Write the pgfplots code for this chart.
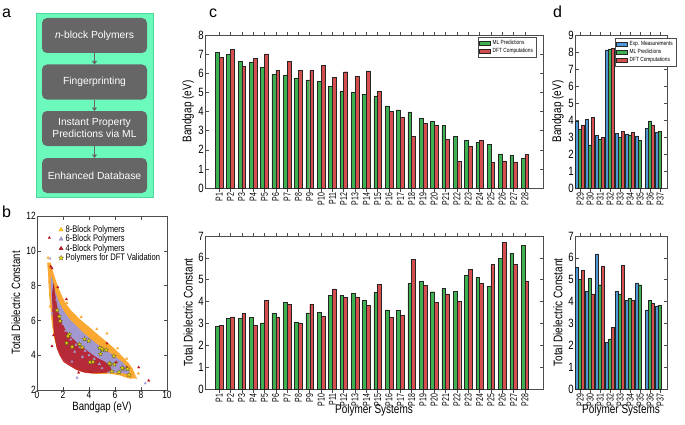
\documentclass[border=0pt]{standalone}
\usepackage{fontspec}
\setmainfont{Liberation Sans}[FakeStretch=0.8]
\newfontfamily\plainfont{Liberation Sans}
\newfontfamily\narrowfont{Liberation Sans}[FakeStretch=0.7]
\usepackage{pgfplots}
\pgfplotsset{compat=1.18}
\usetikzlibrary{arrows.meta}

\definecolor{mlgreen}{RGB}{62,178,80}
\definecolor{dftred}{RGB}{214,78,78}
\definecolor{expblue}{RGB}{78,152,216}
\definecolor{mint}{RGB}{108,250,188}
\definecolor{mintedge}{RGB}{80,215,155}
\definecolor{boxgray}{RGB}{102,102,102}
\definecolor{orange8}{RGB}{250,168,50}
\definecolor{lav6}{RGB}{162,152,208}
\definecolor{red4}{RGB}{185,22,30}

\newcommand\tickfont{\fontsize{12}{12}\selectfont}
\newcommand\labfont{\fontsize{12.5}{13}\selectfont}
\newcommand\pfont{\narrowfont\fontsize{10}{10.5}\selectfont}
\newcommand\legfont{\fontsize{6}{6.5}\selectfont}

% filled five-point star for the DFT validation points
\pgfdeclareplotmark{fstar}{%
  \pgfpathmoveto{\pgfpointpolar{90}{\pgfplotmarksize}}%
  \pgfpathlineto{\pgfpointpolar{126}{0.42\pgfplotmarksize}}%
  \pgfpathlineto{\pgfpointpolar{162}{\pgfplotmarksize}}%
  \pgfpathlineto{\pgfpointpolar{198}{0.42\pgfplotmarksize}}%
  \pgfpathlineto{\pgfpointpolar{234}{\pgfplotmarksize}}%
  \pgfpathlineto{\pgfpointpolar{270}{0.42\pgfplotmarksize}}%
  \pgfpathlineto{\pgfpointpolar{306}{\pgfplotmarksize}}%
  \pgfpathlineto{\pgfpointpolar{342}{0.42\pgfplotmarksize}}%
  \pgfpathlineto{\pgfpointpolar{18}{\pgfplotmarksize}}%
  \pgfpathlineto{\pgfpointpolar{54}{0.42\pgfplotmarksize}}%
  \pgfpathclose\pgfusepathqfillstroke}

\pgfplotsset{
  panel/.style={scale only axis, anchor=south west,
    axis line style={black!70, line width=0.6pt},
    tick style={black!70, line width=0.5pt}, major tick length=3.5pt,
    tick align=inside,
    /pgf/number format/assume math mode=true,
    ticklabel style={font=\tickfont, inner sep=1pt},
    label style={font=\labfont}},
  bars/.style={panel, ybar=0pt, ymin=0,
    x tick label style={rotate=90, anchor=east, font=\pfont, inner sep=1pt},
    legend image code/.code={\draw[##1, line width=0.4pt] (0pt,-2.1pt) rectangle (11pt,2.1pt);},
    legend style={draw=black!70, line width=0.4pt, font=\legfont, inner sep=1pt,
      row sep=-1.6pt, cells={anchor=west}},
    every axis plot/.append style={draw=black!85, line width=0.45pt}},
  ctick/.style={xmin=-0.25, xmax=29.6, xtick={1,...,28},
    xticklabels={P1,P2,P3,P4,P5,P6,P7,P8,P9,P10,P11,P12,P13,P14,P15,P16,P17,P18,P19,P20,P21,P22,P23,P24,P25,P26,P27,P28},
    bar width=3.8pt, width=338pt, height=153pt,
    ylabel style={at={(axis description cs:-0.05,0.5)}, anchor=center}},
  dtick/.style={xmin=0.48, xmax=9.68, xtick={1,...,9},
    xticklabels={P29,P30,P31,P32,P33,P34,P35,P36,P37},
    bar width=3pt, width=92pt, height=153pt,
    ylabel style={at={(axis description cs:-0.185,0.5)}, anchor=center}},
}

\begin{document}
\begin{tikzpicture}
\useasboundingbox (0,0) rectangle (685pt,424pt);

% panel labels
\node[anchor=base west, inner sep=0pt, font=\plainfont\fontsize{16}{16}\selectfont] at (2pt,406pt) {a};
\node[anchor=base west, inner sep=0pt, font=\plainfont\fontsize{16}{16}\selectfont] at (2pt,207pt) {b};
\node[anchor=base west, inner sep=0pt, font=\plainfont\fontsize{16}{16}\selectfont] at (209pt,406pt) {c};
\node[anchor=base west, inner sep=0pt, font=\plainfont\fontsize{16}{16}\selectfont] at (553pt,406pt) {d};

% ---- a: workflow
\draw[fill=mint, draw=mintedge, line width=0.8pt] (36pt,227pt) rectangle (153pt,411pt);
\begin{scope}[every node/.style={fill=boxgray, rounded corners=5pt, minimum width=105pt,
    minimum height=35pt, text=white, align=center, inner sep=1pt,
    font=\plainfont\fontsize{10.3}{12}\selectfont}]
  \node at (94.5pt,388.5pt) {\textit{n}-block Polymers};
  \node at (94.5pt,342pt) {Fingerprinting};
  \node at (94.5pt,295.5pt) {Instant Property\\Predictions via ML};
  \node at (94.5pt,248.5pt) {Enhanced Database};
\end{scope}
\foreach \yt/\yb in {371/359.5, 324.5/313, 278/266}
  \draw[boxgray, line width=1.3pt, -{Triangle[width=5pt,length=3.5pt]}] (94.5pt,\yt pt) -- (94.5pt,\yb pt);

% ---- b: scatter
\begin{axis}[panel, at={(37pt,34pt)}, width=130pt, height=174pt,
  xmin=0, xmax=10, ymin=2, ymax=12, xtick={0,2,...,10}, ytick={2,4,...,12},
  ticklabel style={font=\fontsize{10.5}{10.5}\selectfont},
  label style={font=\fontsize{12}{12}\selectfont},
  xlabel={Bandgap (eV)}, ylabel={Total Dielectric Constant},
  xlabel style={at={(axis description cs:0.5,-0.1)}, anchor=center},
  ylabel style={at={(axis description cs:-0.162,0.5)}, anchor=center},
  legend image code/.code={\draw[mark repeat=2,mark phase=2,#1] plot coordinates {(0pt,0pt)(3pt,0pt)(6pt,0pt)};},
  legend style={at={(0.165,0.958)}, anchor=north west, draw=none, fill=none,
    font=\fontsize{9.5}{9.5}\selectfont, row sep=-3pt, inner sep=0pt, cells={anchor=west}}]
\addlegendimage{only marks, mark=triangle*, mark size=2.3pt, mark options={fill=yellow!85!orange, draw=orange, line width=0.3pt}}
\addlegendentry{8-Block Polymers}
\addlegendimage{only marks, mark=triangle*, mark size=2.3pt, mark options={fill=lav6, draw=lav6!80!black, line width=0.3pt}}
\addlegendentry{6-Block Polymers}
\addlegendimage{only marks, mark=triangle*, mark size=2.3pt, mark options={fill=red4, draw=red4!80!black, line width=0.3pt}}
\addlegendentry{4-Block Polymers}
\addlegendimage{only marks, mark=fstar, mark size=2.6pt, mark options={fill=yellow!90!orange, draw=olive!60!black, line width=0.3pt}}
\addlegendentry{Polymers for DFT Validation}
% 8-block cloud outline
\addplot[forget plot, fill=orange8, draw=orange8, line width=0.8pt] coordinates {
 (0.82,9.3) (1.03,9.3) (1.2,8.8) (1.41,8.31) (1.65,7.8) (1.92,7.35) (2.2,6.95)
 (2.56,6.59) (3.0,6.25) (3.33,6.02) (3.7,5.78) (4.1,5.54) (4.5,5.27) (5.0,4.96)
 (5.45,4.68) (5.9,4.39) (6.3,4.1) (6.67,3.82) (7.0,3.55) (7.31,3.24) (7.56,2.8)
 (7.45,2.7) (7.18,2.67) (6.8,2.75) (6.41,2.86) (5.64,2.96) (4.62,2.95) (3.59,3.05)
 (3.0,3.25) (2.56,3.5) (2.2,3.7) (1.92,3.91) (1.7,4.2) (1.54,4.49) (1.38,4.9)
 (1.28,5.25) (1.15,6.0) (1.08,6.59) (0.95,7.6) (0.9,8.5)} -- cycle;
% 6-block cloud outline
\addplot[forget plot, fill=lav6, draw=lav6, line width=0.5pt] coordinates {
 (1.1,8.5) (1.2,8.2) (1.38,7.65) (1.7,7.0) (2.1,6.45) (2.56,6.0) (3.0,5.68) (3.59,5.25)
 (4.1,4.93) (4.62,4.62) (5.1,4.37) (5.64,4.1) (6.1,3.85) (6.54,3.6) (6.9,3.3)
 (7.1,3.02) (6.9,2.95) (6.41,3.0) (5.38,3.02) (4.1,3.05) (3.4,3.2) (2.82,3.4)
 (2.3,3.65) (1.95,3.9) (1.68,4.35) (1.52,4.75) (1.38,5.3) (1.26,6.0) (1.15,7.0)
 (1.08,7.9)} -- cycle;
% 4-block cloud outline
\addplot[forget plot, fill=red4, draw=red4, fill opacity=0.85, line width=0.3pt] coordinates {
 (1.28,8.1) (1.4,7.4) (1.54,6.78) (1.75,6.2) (2.05,5.63) (2.5,5.1) (3.08,4.7)
 (3.6,4.4) (4.1,4.1) (4.6,3.85) (5.13,3.65) (5.6,3.4) (5.7,3.15) (5.3,3.0)
 (4.36,2.96) (3.7,3.0) (3.08,3.15) (2.5,3.4) (2.05,3.62) (1.75,4.0) (1.54,4.39)
 (1.38,5.0) (1.28,5.63) (1.2,6.6) (1.18,7.55)} -- cycle;
% 6-block points lying over the 4-block cloud
\addplot[forget plot, only marks, mark=triangle*, mark size=1.3pt, lav6, mark options={fill=lav6, draw=lav6}] coordinates {
 (2.2,5.4) (2.6,4.9) (3.0,4.6) (3.3,4.45) (3.7,4.25) (4.0,4.0) (4.4,3.8) (2.0,5.8)
 (1.7,6.5) (1.5,7.2) (2.9,4.2) (3.5,3.9) (4.8,3.5) (3.08,2.71) (1.0,9.55) (1.15,6.4)
 (8.33,2.38) (2.69,3.63) (5.0,3.25)};
% scattered 8-block points
\addplot[forget plot, only marks, mark=triangle*, mark size=1.3pt, orange8, mark options={fill=orange8, draw=orange8}] coordinates {
 (0.85,9.6) (5.38,5.25) (6.2,4.4) (7.6,2.7) (7.8,2.95) (1.0,6.8) (0.95,8.2) (4.6,5.5)
 (6.9,3.8) (2.3,7.0) (3.4,6.2)};
% scattered 4-block points
\addplot[forget plot, only marks, mark=triangle*, mark size=1.3pt, red4, mark options={fill=red4, draw=red4}] coordinates {
 (0.95,10.75) (1.05,9.1) (1.15,9.0) (2.26,7.22) (1.28,5.15) (1.15,4.52) (5.38,4.68)
 (7.82,3.3) (8.59,2.54) (6.92,3.3) (1.6,7.9) (4.1,3.05) (3.2,3.0) (6.1,3.6)};
% DFT validation set (ML predictions of P1-P28)
\addplot[only marks, forget plot, mark=fstar, mark size=2.4pt, mark options={fill=yellow!90!orange, draw=olive!60!black, line width=0.3pt}] coordinates {
 (7.08,2.87) (6.97,3.22) (6.61,3.22) (6.56,3.27) (6.31,3.02) (5.95,3.47) (5.91,3.95)
 (5.76,3.07) (5.65,3.48) (5.57,3.52) (5.32,4.30) (5.05,4.30) (5.00,4.37) (4.88,4.07)
 (4.82,4.42) (4.30,3.62) (4.08,3.60) (3.98,4.83) (3.65,4.93) (3.47,4.45) (3.27,4.62)
 (2.70,4.48) (2.50,5.20) (2.38,5.10) (2.28,4.70) (1.78,5.97) (1.72,6.22) (1.55,6.58)};
\end{axis}

% ---- c: bandgap P1-P28
\begin{axis}[bars, ctick, at={(205pt,236pt)}, ymax=8, ytick={0,...,8},
  ylabel={Bandgap (eV)},
  legend style={at={(0.808,0.987)}, anchor=north west}]
\addplot[fill=mlgreen] coordinates {
 (1,7.08) (2,6.97) (3,6.61) (4,6.56) (5,6.31) (6,5.95) (7,5.91) (8,5.76) (9,5.65) (10,5.57)
 (11,5.32) (12,5.06) (13,5.00) (14,4.88) (15,4.82) (16,4.30) (17,4.08) (18,3.98) (19,3.65)
 (20,3.47) (21,3.27) (22,2.70) (23,2.50) (24,2.38) (25,2.28) (26,1.78) (27,1.72) (28,1.55)};
\addlegendentry{ML Predictions}
\addplot[fill=dftred] coordinates {
 (1,6.85) (2,7.25) (3,6.35) (4,6.78) (5,7.01) (6,6.17) (7,6.64) (8,6.14) (9,6.14) (10,6.43)
 (11,5.80) (12,6.08) (13,5.85) (14,6.12) (15,5.07) (16,4.00) (17,3.70) (18,2.70) (19,3.37)
 (20,3.30) (21,2.55) (22,1.40) (23,2.18) (24,2.50) (25,1.33) (26,1.42) (27,1.37) (28,1.75)};
\addlegendentry{DFT Computations}
\end{axis}

% ---- c: dielectric constant P1-P28
\begin{axis}[bars, ctick, at={(205pt,35pt)}, ymax=7, ytick={0,...,7},
  ylabel={Total Dielectric Constant}, xlabel={Polymer Systems},
  xlabel style={at={(axis description cs:0.5,-0.14)}, anchor=center}]
\addplot[fill=mlgreen] coordinates {
 (1,2.87) (2,3.22) (3,3.22) (4,3.27) (5,3.02) (6,3.47) (7,3.95) (8,3.07) (9,3.48) (10,3.52)
 (11,4.30) (12,4.30) (13,4.37) (14,4.07) (15,4.42) (16,3.62) (17,3.60) (18,4.83) (19,4.93)
 (20,4.45) (21,4.62) (22,4.48) (23,5.20) (24,5.10) (25,4.70) (26,5.97) (27,6.22) (28,6.58)};
\addplot[fill=dftred] coordinates {
 (1,2.92) (2,3.30) (3,3.45) (4,2.90) (5,4.05) (6,3.30) (7,3.88) (8,3.03) (9,3.88) (10,3.33)
 (11,4.58) (12,4.20) (13,4.22) (14,3.82) (15,4.80) (16,3.27) (17,3.37) (18,5.93) (19,4.75)
 (20,3.97) (21,4.35) (22,4.00) (23,5.48) (24,4.82) (25,5.70) (26,6.70) (27,5.70) (28,4.93)};
\end{axis}

% ---- d: bandgap P29-P37
\begin{axis}[bars, dtick, at={(575pt,236pt)}, ymax=9, ytick={0,...,9},
  ylabel={Bandgap (eV)},
  legend style={at={(0.435,0.98)}, anchor=north west}]
\addplot[fill=expblue] coordinates {
 (1,3.95) (2,4.05) (3,3.13) (4,8.12) (5,3.23) (6,3.19) (7,3.07) (8,3.52) (9,3.29)};
\addlegendentry{Exp. Measurements}
\addplot[fill=mlgreen] coordinates {
 (1,3.46) (2,2.54) (3,2.84) (4,8.16) (5,2.99) (6,3.13) (7,2.80) (8,3.95) (9,3.35)};
\addlegendentry{ML Predictions}
\addplot[fill=dftred] coordinates {
 (1,3.72) (2,4.17) (3,2.97) (4,8.22) (5,3.33) (6,3.27) (8,3.72)};
\addlegendentry{DFT Computations}
\end{axis}

% ---- d: dielectric constant P29-P37
\begin{axis}[bars, dtick, at={(575pt,35pt)}, ymax=7, ytick={0,...,7},
  ylabel={Total Dielectric Constant}, xlabel={Polymer Systems},
  xlabel style={at={(axis description cs:0.5,-0.14)}, anchor=center}]
\addplot[fill=expblue] coordinates {
 (1,5.58) (2,4.46) (3,6.18) (4,2.14) (5,4.48) (6,4.04) (7,4.85) (8,3.62) (9,3.80)};
\addplot[fill=mlgreen] coordinates {
 (1,5.03) (2,5.05) (3,4.77) (4,2.29) (5,4.35) (6,4.16) (7,4.77) (8,4.06) (9,3.84)};
\addplot[fill=dftred] coordinates {
 (1,5.42) (2,4.35) (3,5.63) (4,2.81) (5,5.66) (6,4.04) (8,3.93)};
\end{axis}
\end{tikzpicture}
\end{document}
